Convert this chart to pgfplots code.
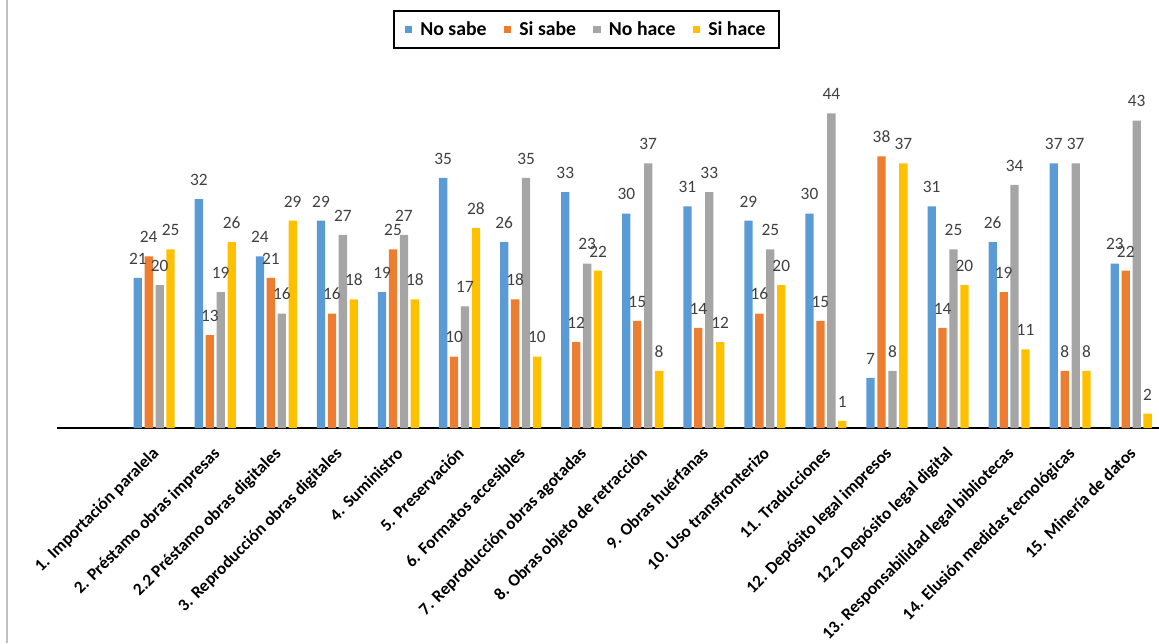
\documentclass[border=0pt]{standalone}
\usepackage{fontspec}
\setmainfont{Carlito}
\usepackage{pgfplots}
\usepackage{pgfplotstable}
\pgfplotsset{compat=1.18}

\definecolor{cBlue}{HTML}{5B9BD5}
\definecolor{cOrange}{HTML}{ED7D31}
\definecolor{cGray}{HTML}{A5A5A5}
\definecolor{cYellow}{HTML}{FFC000}
\definecolor{cLabel}{HTML}{404040}

% columns: no sabe, si sabe, no hace, si hace
\pgfplotstableread{
x nosabe sisabe nohace sihace
0  21 24 20 25
1  32 13 19 26
2  24 21 16 29
3  29 16 27 18
4  19 25 27 18
5  35 10 17 28
6  26 18 35 10
7  33 12 23 22
8  30 15 37 8
9  31 14 33 12
10 29 16 25 20
11 30 15 44 1
12 7  38 8  37
13 31 14 25 20
14 26 19 34 11
15 37 8  37 8
16 23 22 43 2
}\datatable

\begin{document}
\begin{tikzpicture}
\path[use as bounding box] (-42.75pt,-161.25pt) rectangle (826.5pt,321pt);
\draw[color=black!25, line width=1.5pt] (-37.5pt,-161.25pt) -- (-37.5pt,321pt);
\begin{axis}[
    at={(0pt,0pt)}, anchor=south west,
    scale only axis,
    width=826.5pt, height=268.1pt,
    ybar=2pt, bar width=6.2pt,
    xmin=-1.592, xmax=16.455,
    ymin=0, ymax=50,
    enlarge x limits=false,
    axis x line*=bottom,
    hide y axis,
    axis line style={black, line width=1.2pt, -},
    xtick={-0.05,0.95,...,15.95},
    xtick style={draw=none},
    xticklabels={
        1. Importación paralela,
        2. Préstamo obras impresas,
        2.2 Préstamo obras digitales,
        3. Reproducción obras digitales,
        4. Suministro,
        5. Preservación,
        6. Formatos accesibles,
        7. Reproducción obras agotadas,
        8. Obras objeto de retracción,
        9. Obras huérfanas,
        10. Uso transfronterizo,
        11. Traducciones,
        12. Depósito legal impresos,
        12.2 Depósito legal digital,
        13. Responsabilidad legal bibliotecas,
        14. Elusión medidas tecnológicas,
        15. Minería de datos},
    xticklabel style={rotate=45, anchor=north east, inner sep=0pt,
        font=\bfseries\fontsize{12.9}{14}\selectfont},
    xticklabel shift=9pt,
    /pgf/number format/assume math mode=true,
    nodes near coords,
    every node near coord/.append style={font=\fontsize{13}{15}\selectfont,
        color=cLabel, inner sep=0pt, anchor=south, yshift=10pt},
    legend columns=4,
    legend style={at={(0.4805,1.1145)}, anchor=center,
        draw=black, line width=1.3pt,
        font=\bfseries\fontsize{14.8}{17}\selectfont,
        inner xsep=8pt, inner ysep=6pt,
        /tikz/every odd column/.append style={column sep=4pt},
        /tikz/every even column/.append style={column sep=11pt}},
    legend image code/.code={\fill[#1] (0pt,-2.8pt) rectangle (5.6pt,2.8pt);},
]
\addplot[fill=cBlue, draw=none] table[x=x, y=nosabe] {\datatable};
\addplot[fill=cOrange, draw=none] table[x=x, y=sisabe] {\datatable};
\addplot[fill=cGray, draw=none] table[x=x, y=nohace] {\datatable};
\addplot[fill=cYellow, draw=none] table[x=x, y=sihace] {\datatable};
\legend{No sabe, Si sabe, No hace, Si hace}
\end{axis}
\end{tikzpicture}
\end{document}
